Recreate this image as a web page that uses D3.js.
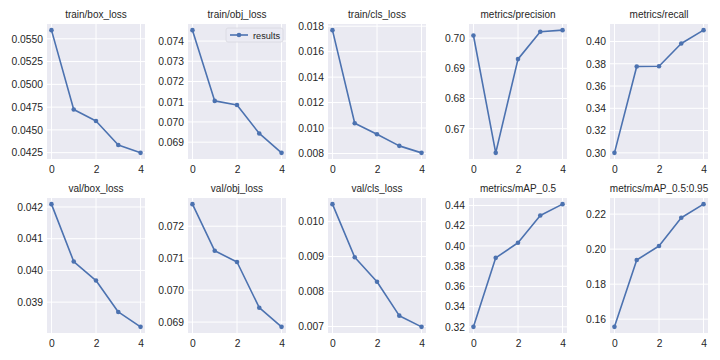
<!DOCTYPE html>
<html>
<head>
<meta charset="utf-8">
<script src="https://cdn.jsdelivr.net/npm/d3@7"></script>
<style>
  html, body { margin: 0; padding: 0; background: #ffffff; }
  svg { display: block; }
  text { font-family: "Liberation Sans", Arial, sans-serif; fill: #262626; }
</style>
</head>
<body>
<svg id="chart" width="720" height="360"></svg>
<script>
const epochs = [0, 1, 2, 3, 4];
const xTickValues = [0, 2, 4];

const titles = [
  "train/box_loss", "train/obj_loss", "train/cls_loss", "metrics/precision", "metrics/recall",
  "val/box_loss", "val/obj_loss", "val/cls_loss", "metrics/mAP_0.5", "metrics/mAP_0.5:0.95"
];

const trainBoxLoss = [0.05595, 0.04724, 0.04597, 0.04334, 0.04248];
const trainObjLoss = [0.07454, 0.07104, 0.07084, 0.06943, 0.06847];
const trainClsLoss = [0.01769, 0.01038, 0.00951, 0.00860, 0.00805];
const precision    = [0.70088, 0.66200, 0.69305, 0.70210, 0.70265];
const recall       = [0.30000, 0.37750, 0.37780, 0.39820, 0.41020];
const valBoxLoss   = [0.04209, 0.04028, 0.03968, 0.03869, 0.03822];
const valObjLoss   = [0.07269, 0.07123, 0.07088, 0.06945, 0.06885];
const valClsLoss   = [0.01050, 0.00898, 0.00828, 0.00731, 0.00699];
const mAP50        = [0.32000, 0.38820, 0.40310, 0.43010, 0.44130];
const mAP5095      = [0.15560, 0.19380, 0.20180, 0.21790, 0.22570];

const yTicksTrainBox = ["0.0425", "0.0450", "0.0475", "0.0500", "0.0525", "0.0550"];
const yTicksTrainObj = ["0.069", "0.070", "0.071", "0.072", "0.073", "0.074"];
const yTicksTrainCls = ["0.008", "0.010", "0.012", "0.014", "0.016", "0.018"];
const yTicksPrecision = ["0.67", "0.68", "0.69", "0.70"];
const yTicksRecall = ["0.30", "0.32", "0.34", "0.36", "0.38", "0.40"];
const yTicksValBox = ["0.039", "0.040", "0.041", "0.042"];
const yTicksValObj = ["0.069", "0.070", "0.071", "0.072"];
const yTicksValCls = ["0.007", "0.008", "0.009", "0.010"];
const yTicksMAP50 = ["0.32", "0.34", "0.36", "0.38", "0.40", "0.42", "0.44"];
const yTicksMAP5095 = ["0.16", "0.18", "0.20", "0.22"];

const legendLabel = "results";

const seriesList = [trainBoxLoss, trainObjLoss, trainClsLoss, precision, recall,
                    valBoxLoss, valObjLoss, valClsLoss, mAP50, mAP5095];
const tickList = [yTicksTrainBox, yTicksTrainObj, yTicksTrainCls, yTicksPrecision, yTicksRecall,
                  yTicksValBox, yTicksValObj, yTicksValCls, yTicksMAP50, yTicksMAP5095];

const svg = d3.select("#chart");
const panelLefts = [47, 188, 328, 469, 610];
const panelWidth = 98;
const rowTops = [24, 198];
const panelHeight = 135;
const lineColor = "#4C72B0";

seriesList.forEach((vals, i) => {
  const col = i % 5, row = Math.floor(i / 5);
  const x0 = panelLefts[col], y0 = rowTops[row];
  const g = svg.append("g").attr("transform", `translate(${x0},${y0})`);

  const xs = d3.scaleLinear().domain([-0.2, 4.2]).range([0, panelWidth]);
  const mn = d3.min(vals), mx = d3.max(vals), pad = (mx - mn) * 0.05;
  const ys = d3.scaleLinear().domain([mn - pad, mx + pad]).range([panelHeight, 0]);

  g.append("rect").attr("width", panelWidth).attr("height", panelHeight).attr("fill", "#EAEAF2");

  const yt = tickList[i].map(Number);
  g.selectAll(".gy").data(yt).enter().append("line")
    .attr("x1", 0).attr("x2", panelWidth)
    .attr("y1", d => ys(d)).attr("y2", d => ys(d))
    .attr("stroke", "#ffffff").attr("stroke-width", 1);
  g.selectAll(".gx").data(xTickValues).enter().append("line")
    .attr("y1", 0).attr("y2", panelHeight)
    .attr("x1", d => xs(d)).attr("x2", d => xs(d))
    .attr("stroke", "#ffffff").attr("stroke-width", 1);

  const yAxis = d3.axisLeft(ys).tickValues(yt).tickSize(0).tickPadding(4)
    .tickFormat((d, k) => tickList[i][k]);
  const ya = g.append("g").call(yAxis);
  ya.select(".domain").remove();
  ya.selectAll("text").style("font-size", "10.3px").attr("fill", "#262626")
    .style("font-family", "'Liberation Sans', Arial, sans-serif");

  const xAxis = d3.axisBottom(xs).tickValues(xTickValues).tickSize(0).tickPadding(7)
    .tickFormat(d3.format("d"));
  const xa = g.append("g").attr("transform", `translate(0,${panelHeight})`).call(xAxis);
  xa.select(".domain").remove();
  xa.selectAll("text").style("font-size", "10.3px").attr("fill", "#262626")
    .style("font-family", "'Liberation Sans', Arial, sans-serif");

  const line = d3.line().x((d, k) => xs(epochs[k])).y(d => ys(d));
  g.append("path").datum(vals).attr("d", line)
    .attr("fill", "none").attr("stroke", lineColor).attr("stroke-width", 1.6)
    .attr("stroke-linejoin", "round");
  g.selectAll(".pt").data(vals).enter().append("circle")
    .attr("cx", (d, k) => xs(epochs[k])).attr("cy", d => ys(d)).attr("r", 2.3)
    .attr("fill", lineColor);

  g.append("text").attr("x", panelWidth / 2).attr("y", -6)
    .attr("text-anchor", "middle").style("font-size", "10px").text(titles[i]);

  if (i === 1) {
    const lg = g.append("g").attr("transform", `translate(${panelWidth - 60},4)`);
    lg.append("rect").attr("width", 57).attr("height", 14).attr("rx", 2)
      .attr("fill", "#EAEAF2").attr("fill-opacity", 0.8)
      .attr("stroke", "#d8d8e0").attr("stroke-width", 0.8);
    lg.append("line").attr("x1", 4).attr("x2", 22).attr("y1", 7).attr("y2", 7)
      .attr("stroke", lineColor).attr("stroke-width", 1.6);
    lg.append("circle").attr("cx", 13).attr("cy", 7).attr("r", 2.3).attr("fill", lineColor);
    lg.append("text").attr("x", 27).attr("y", 10.5).style("font-size", "9.2px").text(legendLabel);
  }
});
</script>
</body>
</html>
